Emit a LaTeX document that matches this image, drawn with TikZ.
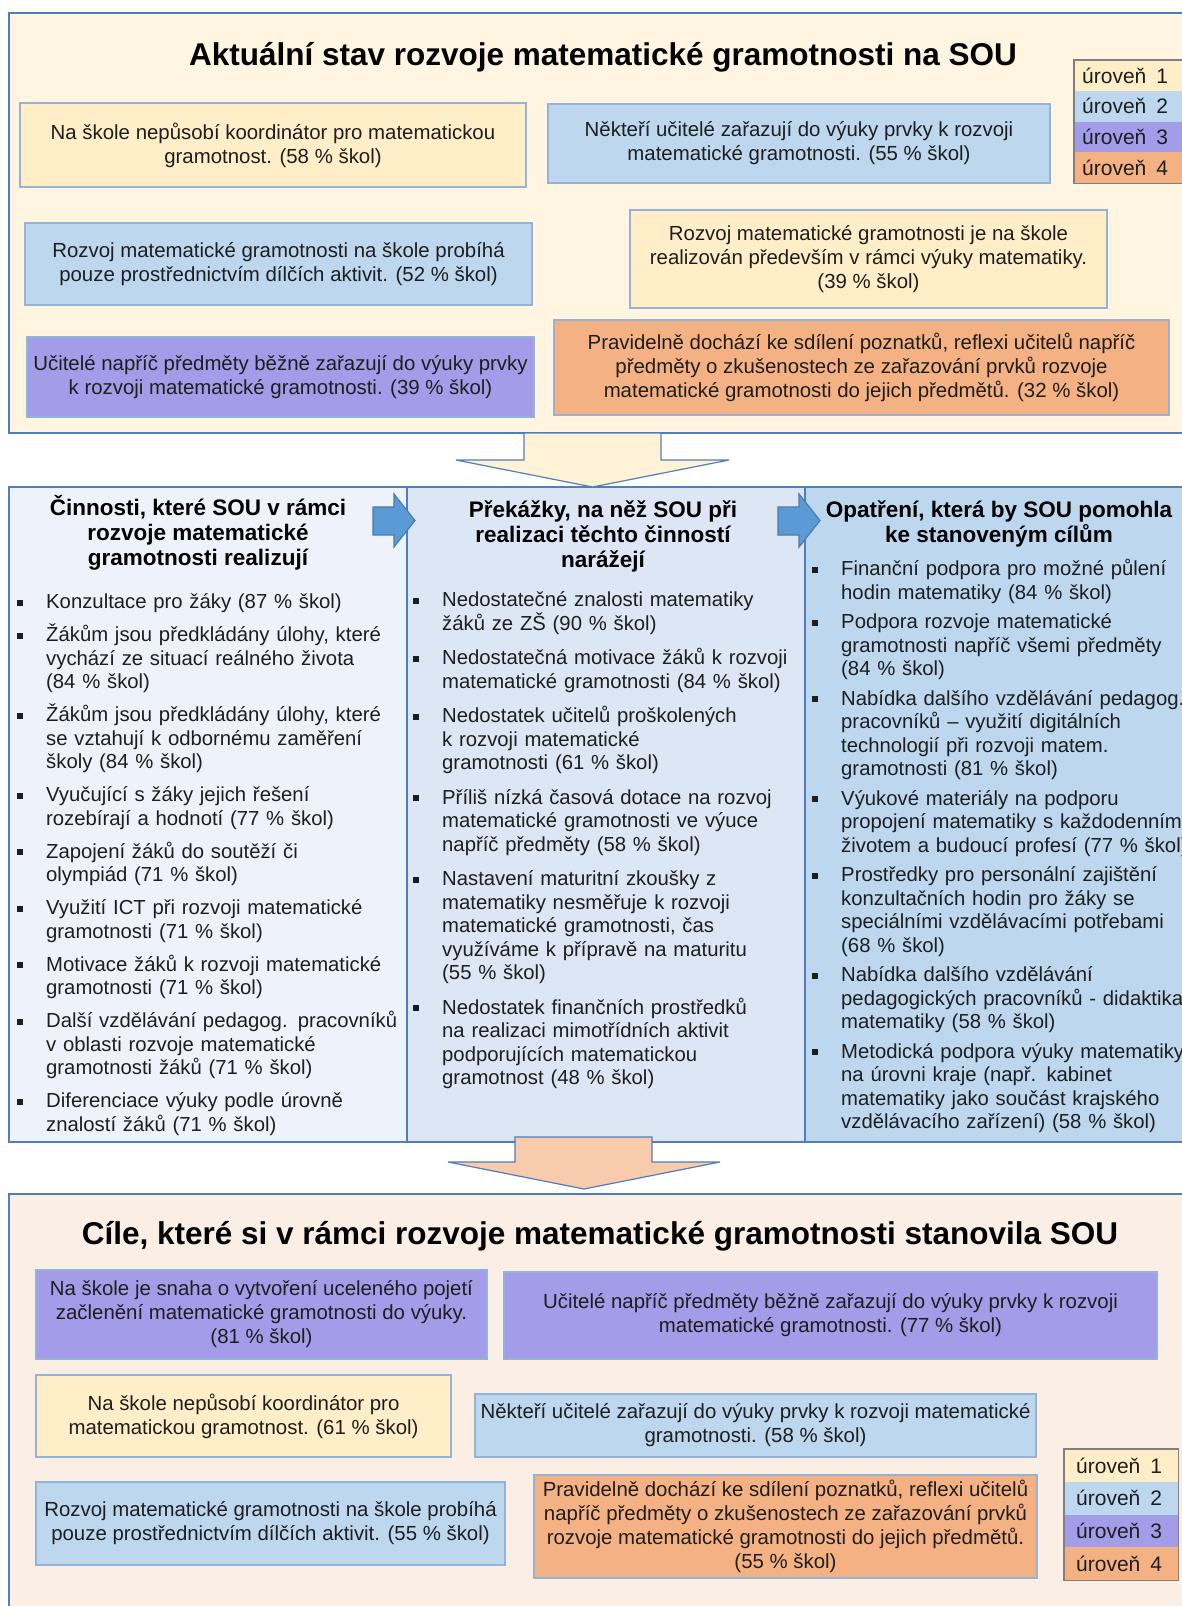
\documentclass[tikz,border=0pt]{standalone}
\usepackage{fontspec}
\setmainfont{Liberation Sans}
\usepackage{xcolor}
\usepackage{tikz}
\usetikzlibrary{calc, positioning}

\definecolor{panelA}{HTML}{FFF5E1}
\definecolor{panelC}{HTML}{FBEEE5}
\definecolor{lineblue}{HTML}{4F7FB8}
\definecolor{boxline}{HTML}{95B3D7}
\definecolor{lvlone}{HTML}{FFEEC8}
\definecolor{lvltwo}{HTML}{BDD7EE}
\definecolor{lvlthree}{HTML}{A39CE8}
\definecolor{lvlfour}{HTML}{F4B183}
\definecolor{colone}{HTML}{EEF3FB}
\definecolor{coltwo}{HTML}{DCE6F4}
\definecolor{colthree}{HTML}{BDD7EE}
\definecolor{arrowblue}{HTML}{5B9BD5}
\definecolor{arrowcream}{HTML}{FFF2D6}
\definecolor{arrowpeach}{HTML}{F8CBAD}
\definecolor{txt}{HTML}{1E1E1E}

% seznam s ctverecky
\newenvironment{ctverce}[1]{%
  \begin{list}{\rule[3pt]{6pt}{6pt}}{%
    \setlength\leftmargin{29pt}\setlength\labelwidth{6pt}%
    \setlength\labelsep{23pt}\setlength\itemsep{#1}%
    \setlength\parsep{0pt}\setlength\topsep{0pt}\setlength\partopsep{0pt}}}%
  {\end{list}}

\tikzset{
  panel/.style={draw=lineblue, line width=1.4pt},
  lvlbox/.style={draw=boxline, line width=1.3pt, align=center, text=txt, inner sep=2pt,
    font=\fontsize{20.4}{24}\selectfont},
  titletext/.style={anchor=base, text=black, font=\bfseries\fontsize{31.5}{36}\selectfont},
  colhead/.style={anchor=north, align=center, inner sep=0pt, text=black,
    font=\bfseries\fontsize{22.5}{25}\selectfont},
  collist/.style={anchor=north west, text width=420pt, inner sep=0pt, text=txt,
    font=\fontsize{20.3}{23.5}\selectfont},
  legrow/.style={anchor=north west, inner ysep=0pt, align=left, text=txt,
    font=\fontsize{21}{24}\selectfont},
  blockarrow/.style={line width=1.2pt, line join=miter},
}

\begin{document}
\begin{tikzpicture}[x=1pt, y=-1pt]
    \useasboundingbox (0,0) rectangle (1182,1606);

    % Horni panel
    \draw[panel, fill=panelA] (9,13) rectangle (1200,433);
    \node[titletext] (titulA) at (603,65) {Aktuální stav rozvoje matematické gramotnosti na SOU};

    \node[lvlbox, fill=lvlone, minimum width=506, minimum height=84] (a1) at (273,145)
        {Na škole nepůsobí koordinátor pro matematickou\\gramotnost. (58 \% škol)};
    \node[lvlbox, fill=lvltwo, minimum width=502, minimum height=79] (b1) at (799,143.5)
        {Někteří učitelé zařazují do výuky prvky k rozvoji\\matematické gramotnosti. (55 \% škol)};
    \node[lvlbox, fill=lvltwo, minimum width=507, minimum height=82] (a2) at (278.5,264)
        {Rozvoj matematické gramotnosti na škole probíhá\\pouze prostřednictvím dílčích aktivit. (52 \% škol)};
    \node[lvlbox, fill=lvlone, minimum width=477, minimum height=98] (b2) at (868.5,259)
        {Rozvoj matematické gramotnosti je na škole\\realizován především v rámci výuky matematiky.\\(39 \% škol)};
    \node[lvlbox, fill=lvlthree, minimum width=507, minimum height=80] (a3) at (280.5,377)
        {Učitelé napříč předměty běžně zařazují do výuky prvky\\k rozvoji matematické gramotnosti. (39 \% škol)};
    \node[lvlbox, fill=lvlfour, minimum width=615, minimum height=95] (b3) at (861.5,367.5)
        {Pravidelně dochází ke sdílení poznatků, reflexi učitelů napříč\\předměty o zkušenostech ze zařazování prvků rozvoje\\matematické gramotnosti do jejich předmětů. (32 \% škol)};

    % Legenda nahore
    \foreach \i/\c in {1/lvlone, 2/lvltwo, 3/lvlthree, 4/lvlfour} {
        \node[legrow, fill=\c, text width=92pt, inner xsep=8pt, minimum height=30.75pt]
            (lt\i) at (1074,{60+(\i-1)*30.75}) {úroveň\hspace{10pt}\i};
    }
    \draw[gray, line width=1.3pt] (lt1.north west) rectangle (lt4.south east);

    % Tri sloupce
    \draw[panel, fill=colone] (9,487) rectangle (407,1142);
    \draw[panel, fill=coltwo] (407,487) rectangle (805,1142);
    \draw[panel, fill=colthree] (805,487) rectangle (1200,1142);

    % Sipka dolu (horni)
    \draw[blockarrow, draw=lineblue, fill=arrowcream]
        (524,433) -- (661,433) -- (661,460) -- (729,460) -- (592.5,487)
        -- (456,460) -- (524,460) -- cycle;

    % Sipky doprava
    \foreach \x in {373,778} {
        \draw[blockarrow, draw=arrowblue!80!black, fill=arrowblue]
            (\x,507) -- ({\x+21},507) -- ({\x+21},494) -- ({\x+42},520.5)
            -- ({\x+21},547) -- ({\x+21},535) -- (\x,535) -- cycle;
    }

    \node[colhead] (hA) at (198,495) {Činnosti, které SOU v rámci\\rozvoje matematické\\gramotnosti realizují};
    \node[colhead] (hB) at (603,500) {Překážky, na něž SOU při\\realizaci těchto činností\\narážejí};
    \node[colhead] (hC) at (999,500) {Opatření, která by SOU pomohla\\ke stanoveným cílům};

    \node[collist] (lA) at (17,585) {\raggedright
      \begin{ctverce}{9.5pt}
        \item Konzultace pro žáky (87 \% škol)
        \item Žákům jsou předkládány úlohy, které\\vychází ze situací reálného života\\(84 \% škol)
        \item Žákům jsou předkládány úlohy, které\\se vztahují k odbornému zaměření\\školy (84 \% škol)
        \item Vyučující s žáky jejich řešení\\rozebírají a hodnotí (77 \% škol)
        \item Zapojení žáků do soutěží či\\olympiád (71 \% škol)
        \item Využití ICT při rozvoji matematické\\gramotnosti (71 \% škol)
        \item Motivace žáků k rozvoji matematické\\gramotnosti (71 \% škol)
        \item Další vzdělávání pedagog. pracovníků\\v oblasti rozvoje matematické\\gramotnosti žáků (71 \% škol)
        \item Diferenciace výuky podle úrovně\\znalostí žáků (71 \% škol)
      \end{ctverce}};

    \node[collist] (lB) at (413,583) {\raggedright
      \begin{ctverce}{11pt}
        \item Nedostatečné znalosti matematiky\\žáků ze ZŠ (90 \% škol)
        \item Nedostatečná motivace žáků k rozvoji\\matematické gramotnosti (84 \% škol)
        \item Nedostatek učitelů proškolených\\k rozvoji matematické\\gramotnosti (61 \% škol)
        \item Příliš nízká časová dotace na rozvoj\\matematické gramotnosti ve výuce\\napříč předměty (58 \% škol)
        \item Nastavení maturitní zkoušky z\\matematiky nesměřuje k rozvoji\\matematické gramotnosti, čas\\využíváme k přípravě na maturitu\\(55 \% škol)
        \item Nedostatek finančních prostředků\\na realizaci mimotřídních aktivit\\podporujících matematickou\\gramotnost (48 \% škol)
      \end{ctverce}};

    \node[collist] (lC) at (812,552) {\raggedright
      \begin{ctverce}{6pt}
        \item Finanční podpora pro možné půlení\\hodin matematiky (84 \% škol)
        \item Podpora rozvoje matematické\\gramotnosti napříč všemi předměty\\(84 \% škol)
        \item Nabídka dalšího vzdělávání pedagog.\\pracovníků – využití digitálních\\technologií při rozvoji matem.\\gramotnosti (81 \% škol)
        \item Výukové materiály na podporu\\propojení matematiky s každodenním\\životem a budoucí profesí (77 \% škol)
        \item Prostředky pro personální zajištění\\konzultačních hodin pro žáky se\\speciálními vzdělávacími potřebami\\(68 \% škol)
        \item Nabídka dalšího vzdělávání\\pedagogických pracovníků - didaktika\\matematiky (58 \% škol)
        \item Metodická podpora výuky matematiky\\na úrovni kraje (např. kabinet\\matematiky jako součást krajského\\vzdělávacího zařízení) (58 \% škol)
      \end{ctverce}};

    % Dolni panel
    \draw[panel, fill=panelC] (9,1194) rectangle (1200,1620);

    % Sipka dolu (dolni)
    \draw[blockarrow, draw=lineblue, fill=arrowpeach]
        (515,1137) -- (652,1137) -- (652,1162) -- (720,1162) -- (584,1189)
        -- (448,1162) -- (515,1162) -- cycle;

    \node[titletext] (titulC) at (600,1244) {Cíle, které si v rámci rozvoje matematické gramotnosti stanovila SOU};

    \node[lvlbox, fill=lvlthree, minimum width=451, minimum height=89] (c1) at (261.5,1314.5)
        {Na škole je snaha o vytvoření uceleného pojetí\\začlenění matematické gramotnosti do výuky.\\(81 \% škol)};
    \node[lvlbox, fill=lvlthree, minimum width=653, minimum height=87] (d1) at (830.5,1315.5)
        {Učitelé napříč předměty běžně zařazují do výuky prvky k rozvoji\\matematické gramotnosti. (77 \% škol)};
    \node[lvlbox, fill=lvlone, minimum width=415, minimum height=82] (c2) at (243.5,1416)
        {Na škole nepůsobí koordinátor pro\\matematickou gramotnost. (61 \% škol)};
    \node[lvlbox, fill=lvltwo, minimum width=561, minimum height=63] (d2) at (755.5,1425.5)
        {Někteří učitelé zařazují do výuky prvky k rozvoji matematické\\gramotnosti. (58 \% škol)};
    \node[lvlbox, fill=lvltwo, minimum width=469, minimum height=83] (c3) at (270.5,1523.5)
        {Rozvoj matematické gramotnosti na škole probíhá\\pouze prostřednictvím dílčích aktivit. (55 \% škol)};
    \node[lvlbox, fill=lvlfour, minimum width=503, minimum height=103] (d3) at (785.5,1526.5)
        {Pravidelně dochází ke sdílení poznatků, reflexi učitelů\\napříč předměty o zkušenostech ze zařazování prvků\\rozvoje matematické gramotnosti do jejich předmětů.\\(55 \% škol)};

    % Legenda dole
    \foreach \i/\c in {1/lvlone, 2/lvltwo, 3/lvlthree, 4/lvlfour} {
        \node[legrow, fill=\c, text width=90pt, inner xsep=12pt, minimum height=32.75pt]
            (lb\i) at (1064,{1449+(\i-1)*32.75}) {úroveň\hspace{10pt}\i};
    }
    \draw[gray, line width=1.3pt] (lb1.north west) rectangle (lb4.south east);
\end{tikzpicture}
\end{document}
